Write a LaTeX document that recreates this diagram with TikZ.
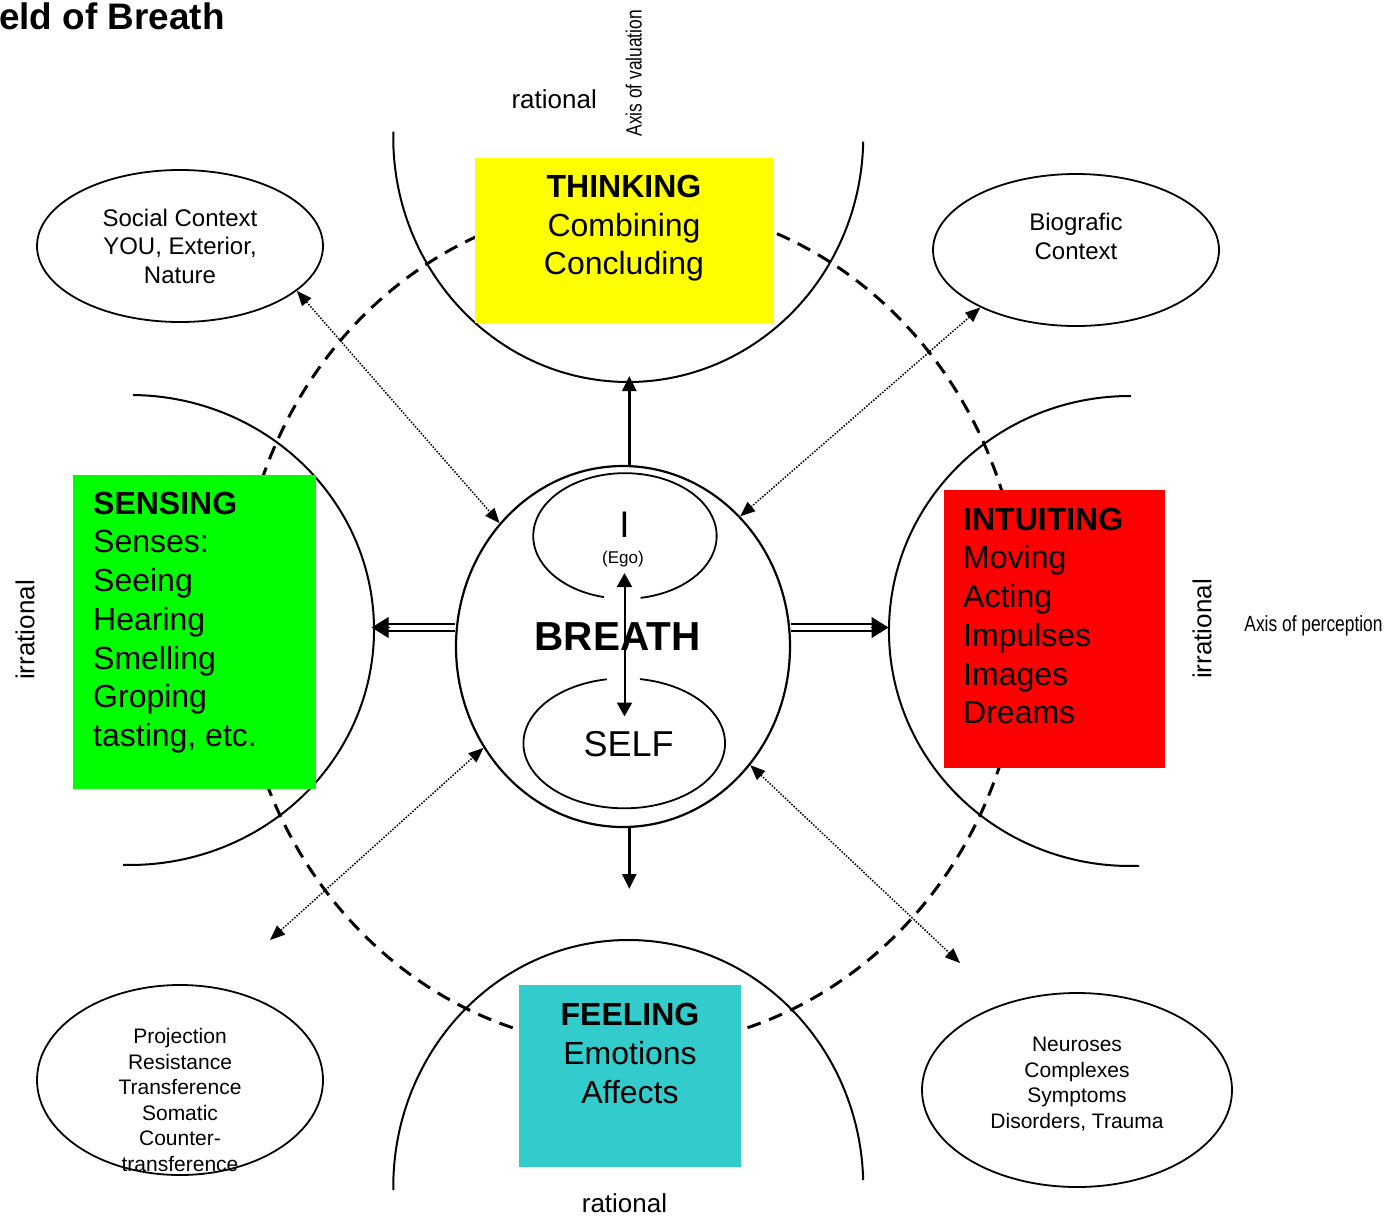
\documentclass[tikz,border=0pt]{standalone}
\usepackage{fontspec}
\setmainfont{Liberation Sans}
\usetikzlibrary{arrows.meta,calc,shapes.geometric}
\definecolor{fgreen}{HTML}{00FF00}
\definecolor{fyellow}{HTML}{FFFF00}
\definecolor{fred}{HTML}{FF0000}
\definecolor{fcyan}{HTML}{33CCCC}
\begin{document}
\begin{tikzpicture}[x=1pt,y=-1pt,
  arcline/.style={line width=2pt},
  dashring/.style={line width=3pt, dash pattern=on 14pt off 9pt},
  oval/.style={draw, ellipse, line width=1.8pt, inner sep=0pt},
  colbox/.style={inner sep=0pt, anchor=north west},
  boxtext/.style={inner sep=0pt, font=\fontsize{32}{38.7}\selectfont},
  elltext/.style={inner sep=0pt, align=center},
  lbl/.style={inner sep=0pt, font=\fontsize{26}{30}\selectfont},
  axislbl/.style={inner sep=0pt, font=\fontsize{22}{26}\selectfont},
  dotarrow/.style={line width=1.5pt, dash pattern=on 1.5pt off 1.5pt,
     {Triangle[length=15pt,width=12pt]}-{Triangle[length=15pt,width=12pt]}},
  solidarrow/.style={line width=2.6pt, -{Triangle[length=15pt,width=14pt]}},
  dblline/.style={line width=2.2pt, double=white, double distance=4.2pt},
  dbltip/.style={line width=1pt, -{Triangle[length=17pt,width=21pt]}},
  egoarrow/.style={line width=2pt, {Triangle[length=14pt,width=15pt]}-{Triangle[length=14pt,width=15pt]}}
]
\useasboundingbox (0,0) rectangle (1394,1216);

% title
\node[anchor=base west, inner sep=0pt, font=\bfseries\fontsize{36.9}{40}\selectfont] (title) at (-1,29.3) {eld of Breath};

% dashed ring
\draw[dashring] (630,625) ellipse [x radius=392, y radius=422];

% four arcs
\draw[arcline] (393.3,131.7) arc[start angle=181.24, end angle=1.1, x radius=235, y radius=245];
\draw[arcline] (133,395) arc[start angle=-89.3, end angle=91.6, x radius=244, y radius=235];
\draw[arcline] (1130.8,396) arc[start angle=270.2, end angle=87.8, x radius=241, y radius=235];
\draw[arcline] (393.3,1190) arc[start angle=179.3, end angle=358.4, x radius=235, y radius=247];

\coordinate (thinktip) at (629.3,376);
\coordinate (feeltip) at (629.3,889);
\coordinate (sensetip) at (371.7,627.5);
\coordinate (intuittip) at (888.5,627.5);

% coloured boxes
\node[colbox, fill=fyellow, minimum width=298.3pt, minimum height=165.4pt] (thinkbox) at (475,157.3) {};
\node[colbox, fill=fgreen, minimum width=243pt, minimum height=313.3pt] (sensebox) at (73,475) {};
\node[colbox, fill=fred, minimum width=221.7pt, minimum height=277.7pt] (intuitbox) at (943.3,490) {};
\node[colbox, fill=fcyan, minimum width=222pt, minimum height=181.7pt] (feelbox) at (519,985) {};

\node[boxtext, align=center] (thinktxt) at (624,228.2) {\textbf{THINKING}\\Combining\\Concluding};
\node[boxtext, align=left, anchor=west] (sensetxt) at (93,622.5) {\textbf{SENSING}\\Senses:\\Seeing\\Hearing\\Smelling\\Groping\\tasting, etc.};
\node[boxtext, align=left, anchor=west] (intuittxt) at (963,616) {\textbf{INTUITING}\\Moving\\Acting\\Impulses\\Images\\Dreams};
\node[boxtext, align=center] (feeltxt) at (630,1053.5) {\textbf{FEELING}\\Emotions\\Affects};

% context ellipses
\node[oval, minimum width=286pt, minimum height=152pt] (sc) at (180,246) {};
\node[elltext, font=\fontsize{24}{28.5}\selectfont] (sctxt) at (180,246.3) {Social Context\\YOU, Exterior,\\Nature};
\node[oval, minimum width=286pt, minimum height=152pt] (bc) at (1076,250) {};
\node[elltext, font=\fontsize{24}{28.5}\selectfont] (bctxt) at (1076,236.3) {Biografic\\Context};
\node[oval, minimum width=286pt, minimum height=190pt] (pc) at (180,1080) {};
\node[elltext, font=\fontsize{21}{25.6}\selectfont] (pctxt) at (180,1100) {Projection\\Resistance\\Transference\\Somatic\\Counter-\\transference};
\node[oval, minimum width=310pt, minimum height=194pt] (nc) at (1077,1090) {};
\node[elltext, font=\fontsize{21}{25.7}\selectfont] (nctxt) at (1077,1084) {Neuroses\\Complexes\\Symptoms\\Disorders, Trauma};

% central circle
\node[draw, ellipse, line width=2.2pt, inner sep=0pt, minimum width=334pt, minimum height=361pt] (breath) at (623,646.5) {};
\draw[line width=1.8pt] (604,597.1) arc[start angle=103.2, end angle=440.2, x radius=91.7, y radius=62.8];
\draw[line width=1.8pt] (640,679.1) arc[start angle=279, end angle=620, x radius=100.8, y radius=65];
\node[anchor=base, inner sep=0pt, font=\fontsize{37}{40}\selectfont] (itxt) at (624.5,537.3) {I};
\node[anchor=base, inner sep=0pt, font=\fontsize{17}{20}\selectfont] (egotxt) at (623,563) {(Ego)};
\node[anchor=base, inner sep=0pt, font=\bfseries\fontsize{40.5}{44}\selectfont] (breathtxt) at (617.5,650) {BREATH};
\node[anchor=base, inner sep=0pt, font=\fontsize{36}{40}\selectfont] (selftxt) at (628.7,756) {SELF};
\coordinate (egotip) at (624.5,573);
\coordinate (selftip) at (624.5,716.5);
\draw[egoarrow] (egotip) -- (selftip);

% connectors from the centre
\draw[solidarrow] (breath.north -| thinktip) -- (thinktip);
\draw[solidarrow] (breath.south -| feeltip) -- (feeltip);
\draw[dblline] (breath.west |- sensetip) -- ([xshift=12pt]sensetip);
\draw[dbltip] ([xshift=18pt]sensetip) -- (sensetip);
\draw[dblline] (breath.east |- intuittip) -- ([xshift=-12pt]intuittip);
\draw[dbltip] ([xshift=-18pt]intuittip) -- (intuittip);

% dotted connectors
\coordinate (llend) at (270,940);
\coordinate (lrend) at (960,963);
\draw[dotarrow] (sc.-21.3) -- (breath.135.5);
\draw[dotarrow] (bc.211.5) -- (breath.48.5);
\draw[dotarrow] (llend) -- (breath.216.5);
\draw[dotarrow] (breath.-43.5) -- (lrend);

% axis labels
\node[lbl] (ratop) at (554.2,99.5) {rational};
\node[lbl] (rabot) at (624.5,1203.5) {rational};
\node[lbl, rotate=90] (irleft) at (25,630) {irrational};
\node[lbl, rotate=90] (irright) at (1202,629) {irrational};
\node[axislbl, rotate=90] (axval) at (633.7,73.3) {\scalebox{0.79}[1]{Axis of valuation}};
\node[axislbl] (axper) at (1313.5,625.3) {\scalebox{0.79}[1]{Axis of perception}};
\end{tikzpicture}
\end{document}
